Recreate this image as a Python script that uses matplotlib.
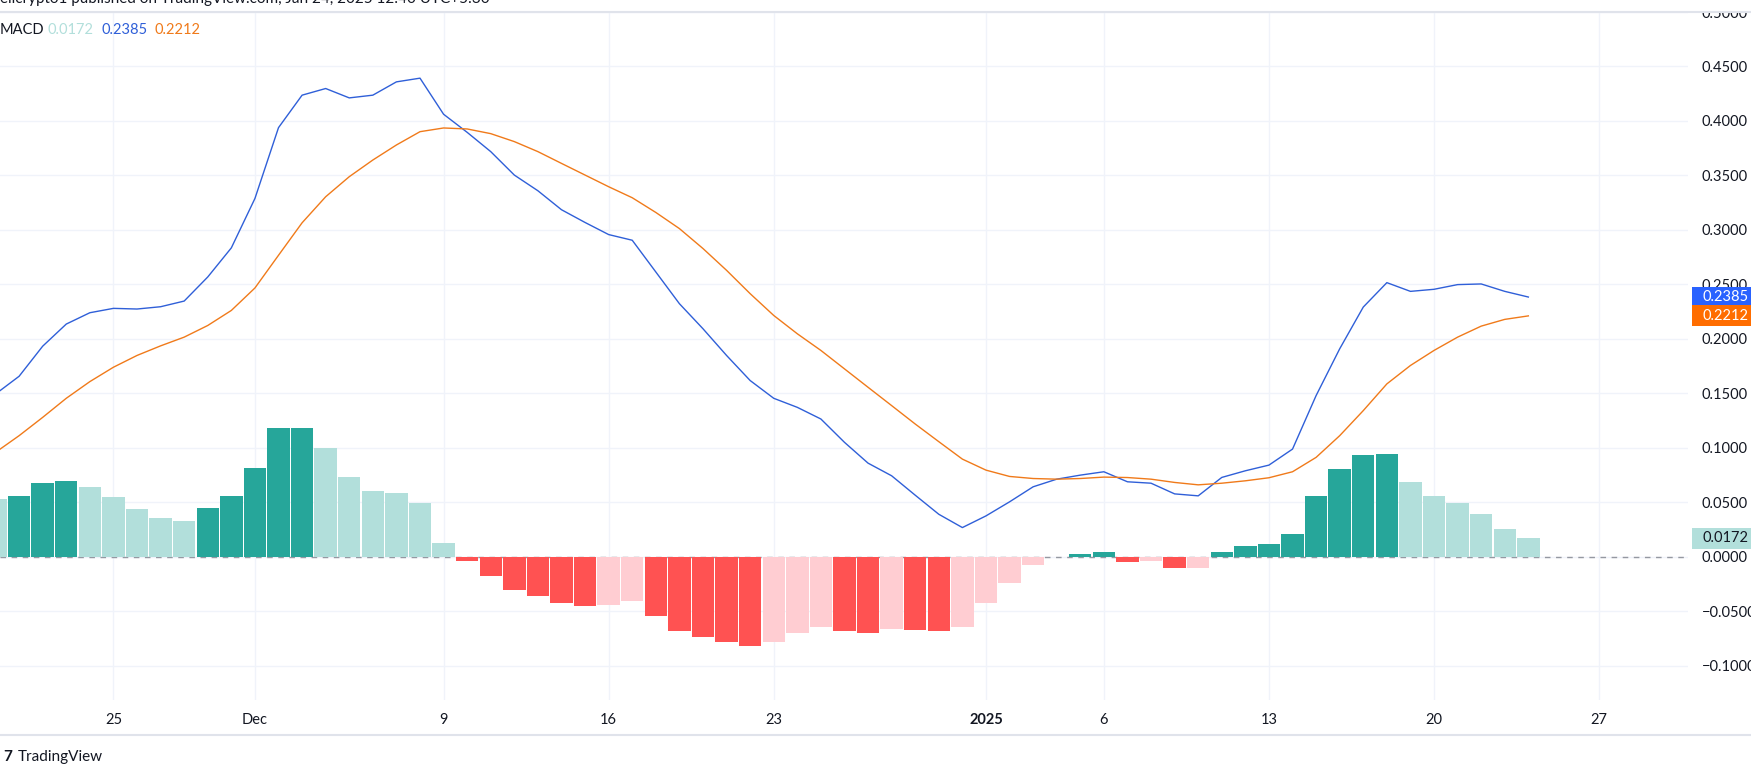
import matplotlib

matplotlib.use("Agg")
import matplotlib.pyplot as plt  # noqa: E402
import matplotlib.dates as mdates  # noqa: E402
from matplotlib.lines import Line2D  # noqa: E402
from matplotlib.patches import Rectangle  # noqa: E402
from matplotlib.ticker import FuncFormatter  # noqa: E402
import pandas as pd  # noqa: E402

plt.rcParams["font.family"] = ["Lato", "DejaVu Sans"]

# daily bars, 2024-11-20 .. 2025-01-24
dates = pd.date_range("2024-11-20", "2025-01-24", freq="D")

macd = [
    0.1495, 0.1658, 0.1934, 0.2137, 0.2241, 0.2281, 0.2275, 0.2296, 0.2348, 0.2569, 0.2836,
    0.3289, 0.3939, 0.4237, 0.4298, 0.4212, 0.4237, 0.4359, 0.4393, 0.4062, 0.3896,
    0.3719, 0.3504, 0.3360, 0.3186, 0.3069, 0.2958, 0.2906, 0.2615, 0.2324, 0.2094,
    0.1849, 0.1619, 0.1456, 0.1373, 0.1266, 0.1052, 0.0861, 0.0745, 0.0567, 0.0392, 0.0270,
    0.0377, 0.0506, 0.0644, 0.0714, 0.0751, 0.0782, 0.0690, 0.0677, 0.0579, 0.0561,
    0.0730, 0.0791, 0.0843, 0.0990, 0.1481, 0.1910, 0.2293, 0.2517, 0.2437, 0.2456,
    0.2499, 0.2505, 0.2437, 0.2385,
]
signal = [
    0.0960, 0.1113, 0.1281, 0.1456, 0.1609, 0.1741, 0.1849, 0.1937, 0.2017, 0.2124, 0.2262,
    0.2468, 0.2768, 0.3066, 0.3305, 0.3489, 0.3642, 0.3780, 0.3902, 0.3936, 0.3927,
    0.3884, 0.3811, 0.3719, 0.3611, 0.3504, 0.3397, 0.3296, 0.3161, 0.3013, 0.2830,
    0.2630, 0.2416, 0.2216, 0.2048, 0.1895, 0.1726, 0.1557, 0.1389, 0.1220, 0.1058, 0.0898,
    0.0797, 0.0739, 0.0720, 0.0714, 0.0720, 0.0733, 0.0729, 0.0714, 0.0684, 0.0662,
    0.0677, 0.0699, 0.0727, 0.0782, 0.0914, 0.1113, 0.1343, 0.1588, 0.1757, 0.1895,
    0.2017, 0.2118, 0.2180, 0.2212,
]
hist = [
    0.0528, 0.0555, 0.0675, 0.0693, 0.0638, 0.0546, 0.0436, 0.0362, 0.0334, 0.0445, 0.0564,
    0.0813, 0.1180, 0.1182, 0.0997, 0.0730, 0.0601, 0.0583, 0.0491, 0.0132, -0.0040,
    -0.0172, -0.0307, -0.0362, -0.0426, -0.0448, -0.0445, -0.0402, -0.0540, -0.0675, -0.0730,
    -0.0776, -0.0813, -0.0776, -0.0693, -0.0638, -0.0681, -0.0693, -0.0660, -0.0669, -0.0675, -0.0638,
    -0.0426, -0.0236, -0.0077, 0.0004, 0.0031, 0.0049, -0.0050, -0.0040, -0.0104, -0.0100,
    0.0049, 0.0098, 0.0117, 0.0212, 0.0555, 0.0804, 0.0933, 0.0942, 0.0684, 0.0564,
    0.0491, 0.0399, 0.0261, 0.0172,
]

tick_dates = ["2024-11-25", "2024-12-01", "2024-12-09", "2024-12-16", "2024-12-23",
              "2025-01-01", "2025-01-06", "2025-01-13", "2025-01-20", "2025-01-27"]
tick_labels = ["25", "Dec", "9", "16", "23", "2025", "6", "13", "20", "27"]
ytick_values = [-0.10, -0.05, 0.00, 0.05, 0.10, 0.15, 0.20, 0.25, 0.30, 0.35, 0.40, 0.45, 0.50]

last_hist, last_macd, last_signal = 0.0172, 0.2385, 0.2212

C_MACD = "#2f5fd8"
C_SIG = "#f07a1a"
C_UP_GROW, C_UP_FALL = "#26a69a", "#b2dfdb"
C_DN_GROW, C_DN_FALL = "#ff5252", "#ffcdd2"
TXT = "#131722"
GRID = "#f0f3fa"

# TradingView colouring: compare with the previous bar
colors = []
for i, h in enumerate(hist):
    prev = hist[i - 1] if i > 0 else h
    if h >= 0:
        colors.append(C_UP_GROW if h > prev else C_UP_FALL)
    else:
        colors.append(C_DN_GROW if h < prev else C_DN_FALL)

W, H = 1751, 780
fig = plt.figure(figsize=(W / 100, H / 100), dpi=100)
ax = fig.add_axes([0, (H - 700) / H, 1688 / W, 688 / H])

x = mdates.date2num(dates)
x0 = mdates.date2num(pd.Timestamp("2024-12-01"))
ax.set_xlim(x0 - 10.81, x0 + 60.77)
ax.set_ylim(-0.1312, 0.5)

ax.axhline(0, color="#9598a1", lw=1, ls=(0, (4, 4)), zorder=1)
ax.bar(x, hist, width=0.95, color=colors, zorder=2)
ax.plot(x, macd, color=C_MACD, lw=1.0, zorder=3)
ax.plot(x, signal, color=C_SIG, lw=1.0, zorder=3)

for s in ax.spines.values():
    s.set_visible(False)

ax.set_yticks(ytick_values)
ax.yaxis.set_major_formatter(FuncFormatter(lambda v, _: f"{v:.4f}".replace("-", "\u2212")))
ax.tick_params(axis="y", length=0, left=False, labelleft=False, labelright=True,
               pad=10, labelsize=10.5, labelcolor=TXT)
ax.set_xticks(mdates.date2num(pd.to_datetime(tick_dates)))
ax.set_xticklabels(tick_labels)
ax.tick_params(axis="x", length=0, pad=9, labelsize=10.5, labelcolor=TXT)
for lbl in ax.get_xticklabels():
    if lbl.get_text() == "2025":
        lbl.set_fontweight("bold")
ax.grid(True, color=GRID, lw=1, zorder=0)
ax.set_axisbelow(True)

# last-value tags on the price scale
yt = ax.get_yaxis_transform()
for val, face, tc in [(last_macd, "#2962ff", "white"),
                      (last_signal, "#ff6d00", "white"),
                      (last_hist, C_UP_FALL, TXT)]:
    ax.add_patch(Rectangle((1692 / 1688, val - 10.5 / 1090), 0.05, 21 / 1090, transform=yt,
                           facecolor=face, edgecolor="none", clip_on=False, zorder=5))
    ax.text(1702 / 1688, val, f"{val:.4f}", transform=yt, color=tc, va="center",
            ha="left", fontsize=10.5, clip_on=False, zorder=6)

# legend line
ly = 1 - 30 / H
fig.text(0 / W, ly, "MACD", color=TXT, fontsize=10.5, va="center")
fig.text(47 / W, ly, f"{last_hist:.4f}", color=C_UP_FALL, fontsize=10.5, va="center")
fig.text(101 / W, ly, f"{last_macd:.4f}", color=C_MACD, fontsize=10.5, va="center")
fig.text(154 / W, ly, f"{last_signal:.4f}", color=C_SIG, fontsize=10.5, va="center")

# header band (cut off at the top) hides the upper half of the 0.5000 label
fig.add_artist(Rectangle((0, 1 - 11 / H), 1, 11 / H, transform=fig.transFigure,
                         facecolor="white", edgecolor="none", zorder=2))
fig.text(0, 1 - 3 / H, "elicrypto1 published on TradingView.com, Jan 24, 2025 12:40 UTC+5:30",
         color=TXT, fontsize=11, va="baseline", zorder=4)
for yy in (12, 735):
    fig.add_artist(Line2D([0, 1], [1 - yy / H] * 2, color="#e0e3eb", lw=1.5,
                          transform=fig.transFigure, zorder=3))

fig.text(3 / W, 1 - 757 / H, "7", color=TXT, fontsize=11, fontweight="bold", va="center")
fig.text(18 / W, 1 - 757 / H, "TradingView", color=TXT, fontsize=11, va="center")

fig.savefig("out.png", dpi=100, facecolor="white")
